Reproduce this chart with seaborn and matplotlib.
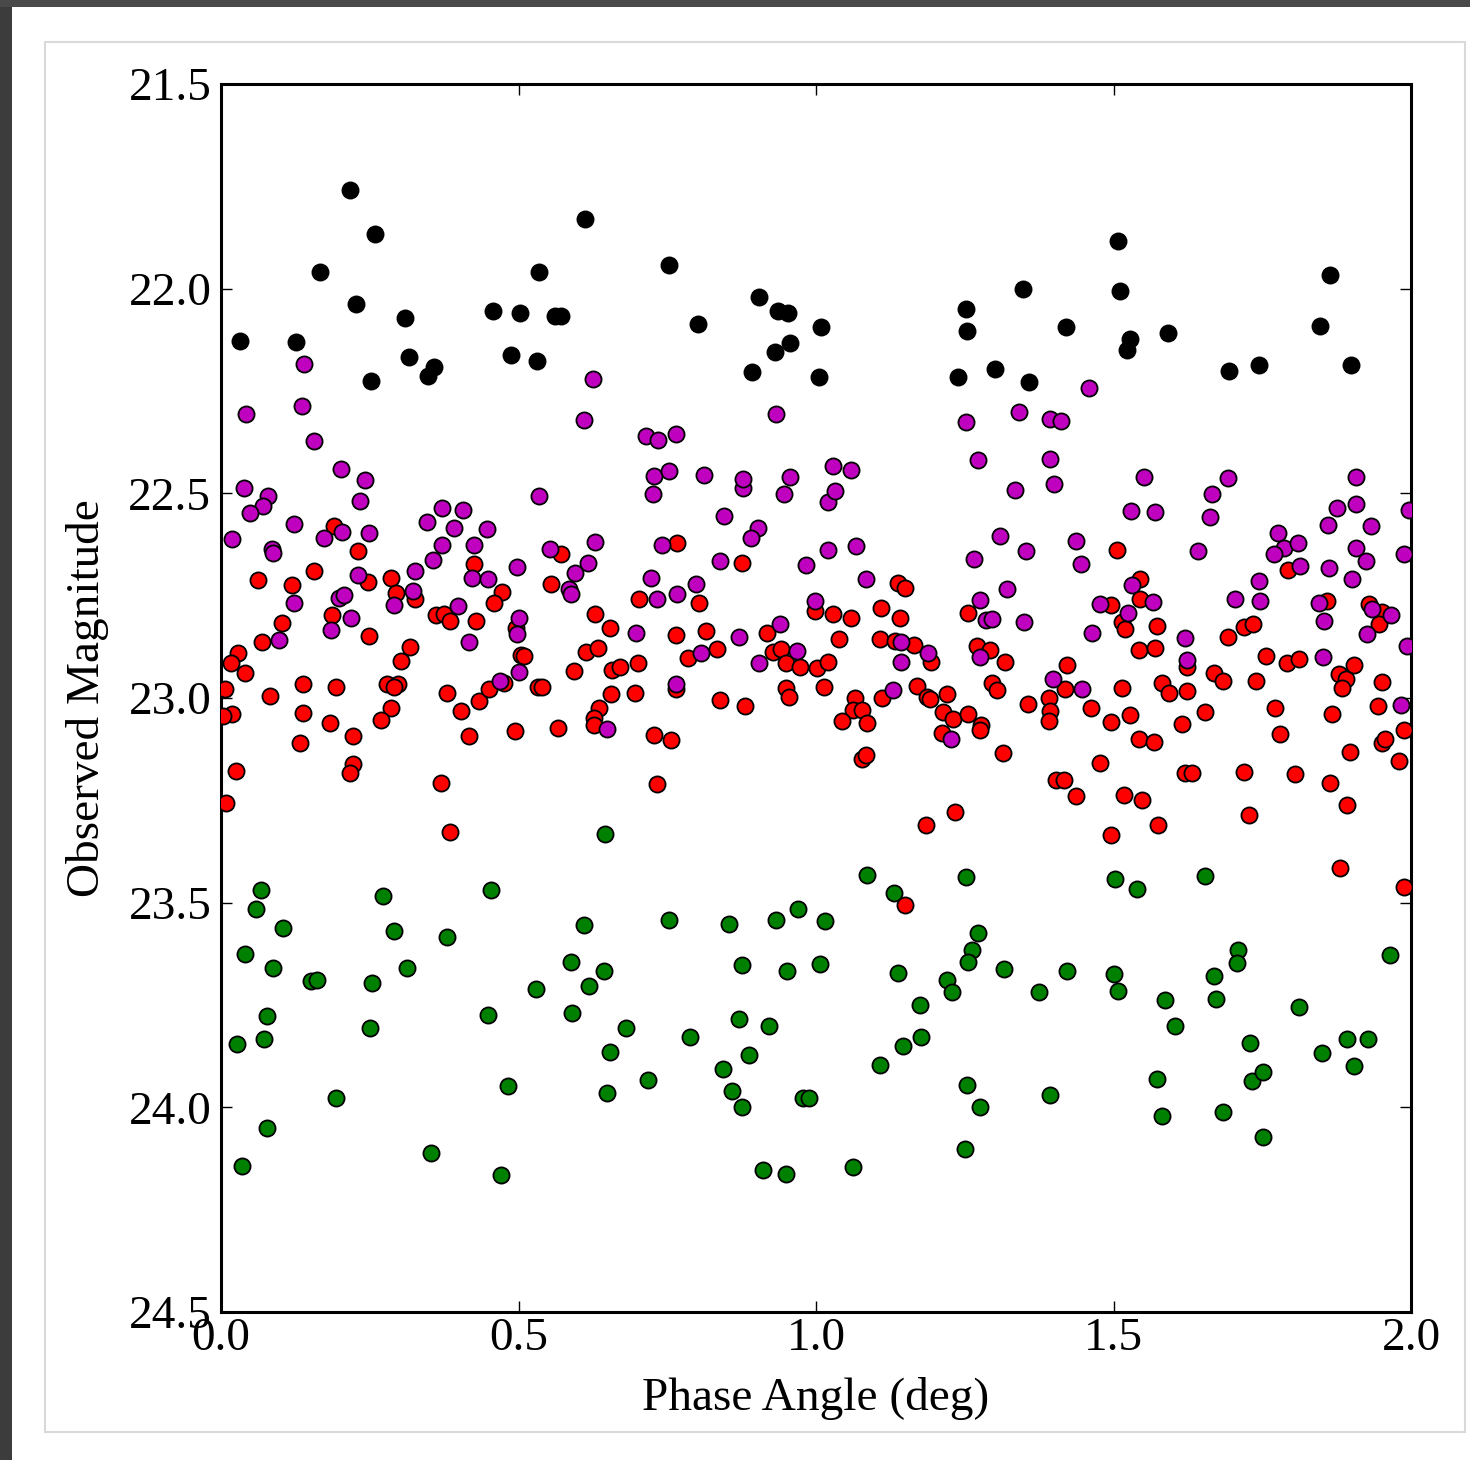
import numpy as np
import pandas as pd
import matplotlib
matplotlib.use("Agg")
import matplotlib.pyplot as plt
from matplotlib.patches import Rectangle
import seaborn as sns

# phase angle (deg) / observed magnitude, one pair of lists per colour
black_x = [0.032, 0.126, 0.166, 0.217, 0.227, 0.259, 0.252, 0.309, 0.316, 0.348, 0.358, 0.457, 0.487, 0.503, 0.534,
           0.531, 0.561, 0.571, 0.612, 0.753, 0.802, 0.892, 0.904, 0.936, 0.953, 0.931, 0.956, 1.008, 1.005, 1.239,
           1.252, 1.254, 1.301, 1.348, 1.358, 1.420, 1.508, 1.511, 1.523, 1.528, 1.592, 1.694, 1.745, 1.847, 1.864,
           1.899]
black_y = [22.128, 22.130, 21.959, 21.759, 22.037, 21.866, 22.226, 22.072, 22.167, 22.213, 22.191, 22.055, 22.162,
           22.059, 21.959, 22.177, 22.067, 22.067, 21.830, 21.942, 22.086, 22.204, 22.020, 22.055, 22.059, 22.155,
           22.133, 22.094, 22.216, 22.216, 22.050, 22.103, 22.196, 22.001, 22.228, 22.094, 21.884, 22.006, 22.150,
           22.123, 22.108, 22.201, 22.186, 22.091, 21.967, 22.186]

green_x = [0.059, 0.105, 0.041, 0.087, 0.151, 0.161, 0.078, 0.073, 0.027, 0.193,
           0.078, 0.035, 0.254, 0.250, 0.290, 0.272, 0.313, 0.379, 0.353, 0.449,
           0.482, 0.470, 0.610, 0.588, 0.643, 0.619, 0.529, 0.590, 0.653, 0.648,
           0.068, 0.454, 0.645, 0.753, 0.853, 0.932, 0.969, 1.015, 1.272, 1.263,
           1.255, 1.316, 1.138, 1.221, 1.229, 1.174, 1.177, 1.146, 1.108, 0.876,
           0.951, 1.007, 0.871, 0.921, 0.887, 0.844, 0.858, 0.876, 0.680, 0.789,
           0.717, 0.978, 0.989, 1.253, 1.275, 1.251, 0.911, 0.950, 1.062, 1.422,
           1.374, 1.500, 1.508, 1.587, 1.603, 1.394, 1.573, 1.582, 1.669, 1.672,
           1.709, 1.708, 1.729, 1.732, 1.751, 1.684, 1.752, 1.811, 1.850, 1.892,
           1.928, 1.904, 1.965, 1.502, 1.539, 1.654, 1.085, 1.131, 1.252]
green_y = [23.516, 23.563, 23.625, 23.660, 23.692, 23.690, 23.776, 23.834, 23.845, 23.976,
           24.051, 24.144, 23.696, 23.806, 23.569, 23.484, 23.660, 23.583, 24.112, 23.774,
           23.948, 24.165, 23.555, 23.646, 23.668, 23.704, 23.712, 23.770, 23.866, 23.966,
           23.468, 23.470, 23.333, 23.543, 23.551, 23.543, 23.516, 23.544, 23.573, 23.616,
           23.646, 23.663, 23.673, 23.688, 23.719, 23.750, 23.827, 23.850, 23.897, 23.652,
           23.668, 23.649, 23.785, 23.801, 23.871, 23.906, 23.961, 24.000, 23.806, 23.827,
           23.933, 23.977, 23.977, 23.946, 23.998, 24.102, 24.154, 24.162, 24.145, 23.667,
           23.718, 23.674, 23.715, 23.738, 23.802, 23.970, 23.932, 24.020, 23.679, 23.736,
           23.616, 23.648, 23.844, 23.935, 23.914, 24.011, 24.073, 23.754, 23.868, 23.834,
           23.834, 23.899, 23.628, 23.443, 23.467, 23.436, 23.432, 23.477, 23.437]

magenta_x = [0.140, 0.042, 0.136, 0.157, 0.202, 0.242, 0.038, 0.079, 0.625, 0.610,
             0.534, 0.234, 0.071, 0.049, 0.018, 0.123, 0.203, 0.173, 0.249, 0.086,
             0.088, 0.230, 0.198, 0.207, 0.123, 0.218, 0.185, 0.098, 0.347, 0.371,
             0.407, 0.391, 0.447, 0.371, 0.357, 0.425, 0.326, 0.323, 0.291, 0.422,
             0.449, 0.497, 0.399, 0.416, 0.501, 0.498, 0.501, 0.469, 0.553, 0.595,
             0.617, 0.629, 0.585, 0.589, 0.648, 0.726, 0.877, 0.946, 1.021, 1.032,
             0.846, 0.902, 0.890, 0.742, 0.838, 0.722, 0.733, 0.767, 0.798, 0.984,
             1.021, 1.068, 1.084, 0.999, 0.939, 0.697, 0.870, 0.806, 0.968, 0.905,
             0.765, 1.143, 1.143, 1.189, 1.129, 1.227, 1.309, 1.266, 1.321, 1.276,
             1.286, 1.296, 1.276, 0.933, 0.715, 0.734, 0.765, 0.728, 0.753, 0.812,
             0.878, 0.957, 1.028, 1.059, 1.252, 1.272, 1.459, 1.341, 1.394, 1.411,
             1.394, 1.400, 1.335, 1.551, 1.692, 1.666, 1.908, 1.529, 1.570, 1.662,
             1.353, 1.437, 1.445, 1.642, 1.531, 1.478, 1.567, 1.525, 1.349, 1.464,
             1.621, 1.624, 1.398, 1.447, 1.704, 1.746, 1.745, 1.777, 1.787, 1.810,
             1.770, 1.813, 1.861, 1.876, 1.907, 1.933, 1.908, 1.924, 1.863, 1.900,
             1.846, 1.854, 1.934, 1.966, 1.926, 1.988, 1.997, 1.994, 1.852, 1.983]
magenta_y = [22.183, 22.307, 22.287, 22.371, 22.441, 22.467, 22.487, 22.507, 22.221, 22.322,
             22.507, 22.519, 22.530, 22.549, 22.612, 22.574, 22.594, 22.608, 22.598, 22.636,
             22.645, 22.700, 22.755, 22.748, 22.769, 22.804, 22.834, 22.858, 22.571, 22.536,
             22.541, 22.584, 22.586, 22.627, 22.662, 22.626, 22.689, 22.739, 22.774, 22.706,
             22.709, 22.680, 22.776, 22.863, 22.805, 22.844, 22.936, 22.958, 22.637, 22.695,
             22.670, 22.620, 22.734, 22.745, 23.075, 22.502, 22.487, 22.502, 22.520, 22.494,
             22.555, 22.584, 22.608, 22.626, 22.665, 22.708, 22.758, 22.746, 22.722, 22.676,
             22.638, 22.628, 22.709, 22.763, 22.820, 22.842, 22.851, 22.891, 22.885, 22.915,
             22.965, 22.863, 22.912, 22.890, 22.980, 23.100, 22.604, 22.660, 22.733, 22.761,
             22.809, 22.807, 22.899, 22.305, 22.361, 22.370, 22.355, 22.457, 22.445, 22.455,
             22.466, 22.461, 22.433, 22.442, 22.326, 22.419, 22.242, 22.302, 22.318, 22.323,
             22.417, 22.476, 22.492, 22.459, 22.463, 22.502, 22.459, 22.542, 22.546, 22.559,
             22.642, 22.616, 22.673, 22.642, 22.725, 22.771, 22.766, 22.792, 22.815, 22.840,
             22.853, 22.907, 22.954, 22.978, 22.758, 22.762, 22.713, 22.598, 22.634, 22.621,
             22.647, 22.678, 22.577, 22.537, 22.526, 22.580, 22.634, 22.665, 22.682, 22.709,
             22.767, 22.813, 22.783, 22.798, 22.844, 22.649, 22.541, 22.874, 22.901, 23.016]

red_x = [0.190, 0.230, 0.062, 0.119, 0.156, 0.247, 0.285, 0.294, 0.326, 0.187,
         0.103, 0.069, 0.249, 0.029, 0.016, 0.041, 0.318, 0.303, 0.006, 0.137,
         0.194, 0.083, 0.279, 0.298, 0.291, 0.380, 0.019, 0.004, 0.138, 0.183,
         0.286, 0.269, 0.222, 0.133, 0.404, 0.416, 0.434, 0.450, 0.476, 0.361,
         0.374, 0.385, 0.429, 0.426, 0.473, 0.459, 0.504, 0.510, 0.494, 0.532,
         0.539, 0.567, 0.571, 0.554, 0.629, 0.654, 0.613, 0.634, 0.593, 0.657,
         0.671, 0.655, 0.636, 0.627, 0.627, 0.025, 0.222, 0.217, 0.008, 0.369,
         0.385, 0.766, 0.876, 0.702, 0.804, 0.764, 0.815, 0.834, 0.785, 0.700,
         0.696, 0.765, 0.839, 0.880, 0.728, 0.756, 0.732, 0.918, 0.927, 0.941,
         0.950, 0.973, 1.002, 1.021, 0.999, 1.029, 1.059, 1.039, 0.950, 0.954,
         1.014, 1.065, 1.063, 1.078, 1.044, 1.086, 1.077, 1.084, 1.138, 1.149,
         1.110, 1.142, 1.108, 1.132, 1.165, 1.194, 1.169, 1.111, 1.186, 1.192,
         1.220, 1.214, 1.230, 1.255, 1.277, 1.276, 1.211, 1.255, 1.270, 1.292,
         1.318, 1.295, 1.305, 1.314, 1.185, 1.233, 1.149, 1.506, 1.544, 1.496,
         1.544, 1.515, 1.519, 1.573, 1.543, 1.570, 1.422, 1.419, 1.356, 1.391,
         1.393, 1.391, 1.462, 1.495, 1.515, 1.527, 1.543, 1.568, 1.581, 1.593,
         1.623, 1.624, 1.669, 1.684, 1.654, 1.615, 1.740, 1.757, 1.792, 1.812,
         1.692, 1.719, 1.735, 1.858, 1.793, 1.929, 1.951, 1.947, 1.879, 1.890,
         1.884, 1.905, 1.951, 1.772, 1.867, 1.945, 1.780, 1.989, 1.951, 1.957,
         1.897, 1.980, 1.478, 1.404, 1.417, 1.437, 1.518, 1.548, 1.620, 1.632,
         1.719, 1.805, 1.864, 1.893, 1.574, 1.496, 1.728, 1.881, 1.988, 0.496]
red_y = [22.579, 22.641, 22.711, 22.724, 22.690, 22.717, 22.706, 22.743, 22.758, 22.797,
         22.816, 22.864, 22.849, 22.890, 22.914, 22.939, 22.875, 22.910, 22.978, 22.965,
         22.972, 22.996, 22.967, 22.967, 22.974, 22.988, 23.038, 23.043, 23.037, 23.060,
         23.024, 23.054, 23.092, 23.110, 23.031, 23.093, 23.007, 22.979, 22.963, 22.797,
         22.796, 22.813, 22.811, 22.672, 22.741, 22.768, 22.895, 22.897, 23.081, 22.973,
         22.972, 23.073, 22.649, 22.721, 22.795, 22.830, 22.888, 22.879, 22.934, 22.932,
         22.925, 22.991, 23.024, 23.050, 23.067, 23.178, 23.162, 23.184, 23.257, 23.207,
         23.327, 22.621, 22.669, 22.758, 22.768, 22.845, 22.837, 22.880, 22.902, 22.915,
         22.988, 22.979, 23.006, 23.020, 23.090, 23.103, 23.211, 22.840, 22.887, 22.881,
         22.915, 22.925, 22.927, 22.911, 22.787, 22.796, 22.805, 22.856, 22.975, 22.997,
         22.973, 23.001, 23.029, 23.030, 23.056, 23.062, 23.149, 23.140, 22.720, 22.731,
         22.781, 22.805, 22.856, 22.861, 22.870, 22.913, 22.971, 23.001, 22.997, 23.003,
         22.991, 23.033, 23.051, 23.040, 23.066, 23.078, 23.086, 22.792, 22.873, 22.883,
         22.912, 22.963, 22.980, 23.135, 23.310, 23.278, 23.506, 22.638, 22.710, 22.772,
         22.759, 22.814, 22.832, 22.825, 22.883, 22.878, 22.920, 22.979, 23.014, 23.001,
         23.032, 23.056, 23.025, 23.059, 22.976, 23.042, 23.099, 23.108, 22.963, 22.988,
         22.983, 22.924, 22.939, 22.958, 23.035, 23.064, 22.959, 22.898, 22.915, 22.905,
         22.850, 22.826, 22.819, 22.763, 22.688, 22.770, 22.790, 22.818, 22.942, 22.953,
         22.975, 22.919, 22.962, 23.025, 23.039, 23.020, 23.087, 23.078, 23.111, 23.100,
         23.132, 23.153, 23.158, 23.201, 23.200, 23.239, 23.237, 23.249, 23.183, 23.184,
         23.182, 23.186, 23.207, 23.261, 23.310, 23.334, 23.285, 23.415, 23.462, 22.829]

x_ticks = [0.0, 0.5, 1.0, 1.5, 2.0]
y_ticks = [21.5, 22.0, 22.5, 23.0, 23.5, 24.0, 24.5]

sns.set_style("ticks")
plt.rcParams['font.family'] = ['Liberation Serif', 'DejaVu Serif']
plt.rcParams['text.color'] = 'black'
plt.rcParams['axes.labelcolor'] = 'black'

fig = plt.figure(figsize=(14.7, 14.6), dpi=100)
fig.patch.set_facecolor('white')

# screenshot surroundings: dark strip at top/left and a light frame around the figure
fig.patches.append(Rectangle((0, 0), 12 / 1470, 1, transform=fig.transFigure,
                             facecolor='#3c3c3c', edgecolor='none', zorder=0))
fig.patches.append(Rectangle((0, 1 - 7 / 1460), 1, 7 / 1460, transform=fig.transFigure,
                             facecolor='#4a4a4a', edgecolor='none', zorder=0))
fig.patches.append(Rectangle((45 / 1470, 28 / 1460), 1420 / 1470, 1390 / 1460, transform=fig.transFigure,
                             facecolor='none', edgecolor='#d9d9d9', linewidth=1.5, zorder=0))

ax = fig.add_axes([221 / 1470, 148 / 1460, 1190 / 1470, 1228 / 1460])

series = [
    (green_x, green_y, 'g'),
    (black_x, black_y, 'k'),
    (red_x, red_y, 'r'),
    (magenta_x, magenta_y, 'm'),
]
for xs, ys, col in series:
    df = pd.DataFrame({'phase': xs, 'mag': ys})
    sns.scatterplot(data=df, x='phase', y='mag', color=col, edgecolor='k',
                    s=135, linewidth=1.3, ax=ax, legend=False, zorder=3)

ax.set_xlim(0.0, 2.0)
ax.set_ylim(24.5, 21.5)
ax.set_xticks(x_ticks)
ax.set_yticks(y_ticks)
ax.set_xticklabels(['%.1f' % t for t in x_ticks])
ax.set_yticklabels(['%.1f' % t for t in y_ticks])
ax.tick_params(direction='in', length=8, width=1, top=True, right=True,
               labelsize=34, pad=7, colors='black')
ax.tick_params(axis='x', pad=4)
for sp in ax.spines.values():
    sp.set_linewidth(2.2)
    sp.set_color('black')

ax.set_xlabel('Phase Angle (deg)', fontsize=34, labelpad=12, color='black')
ax.set_ylabel('Observed Magnitude', fontsize=34, labelpad=14, color='black')

fig.savefig('out.png', dpi=100, facecolor=fig.get_facecolor())
